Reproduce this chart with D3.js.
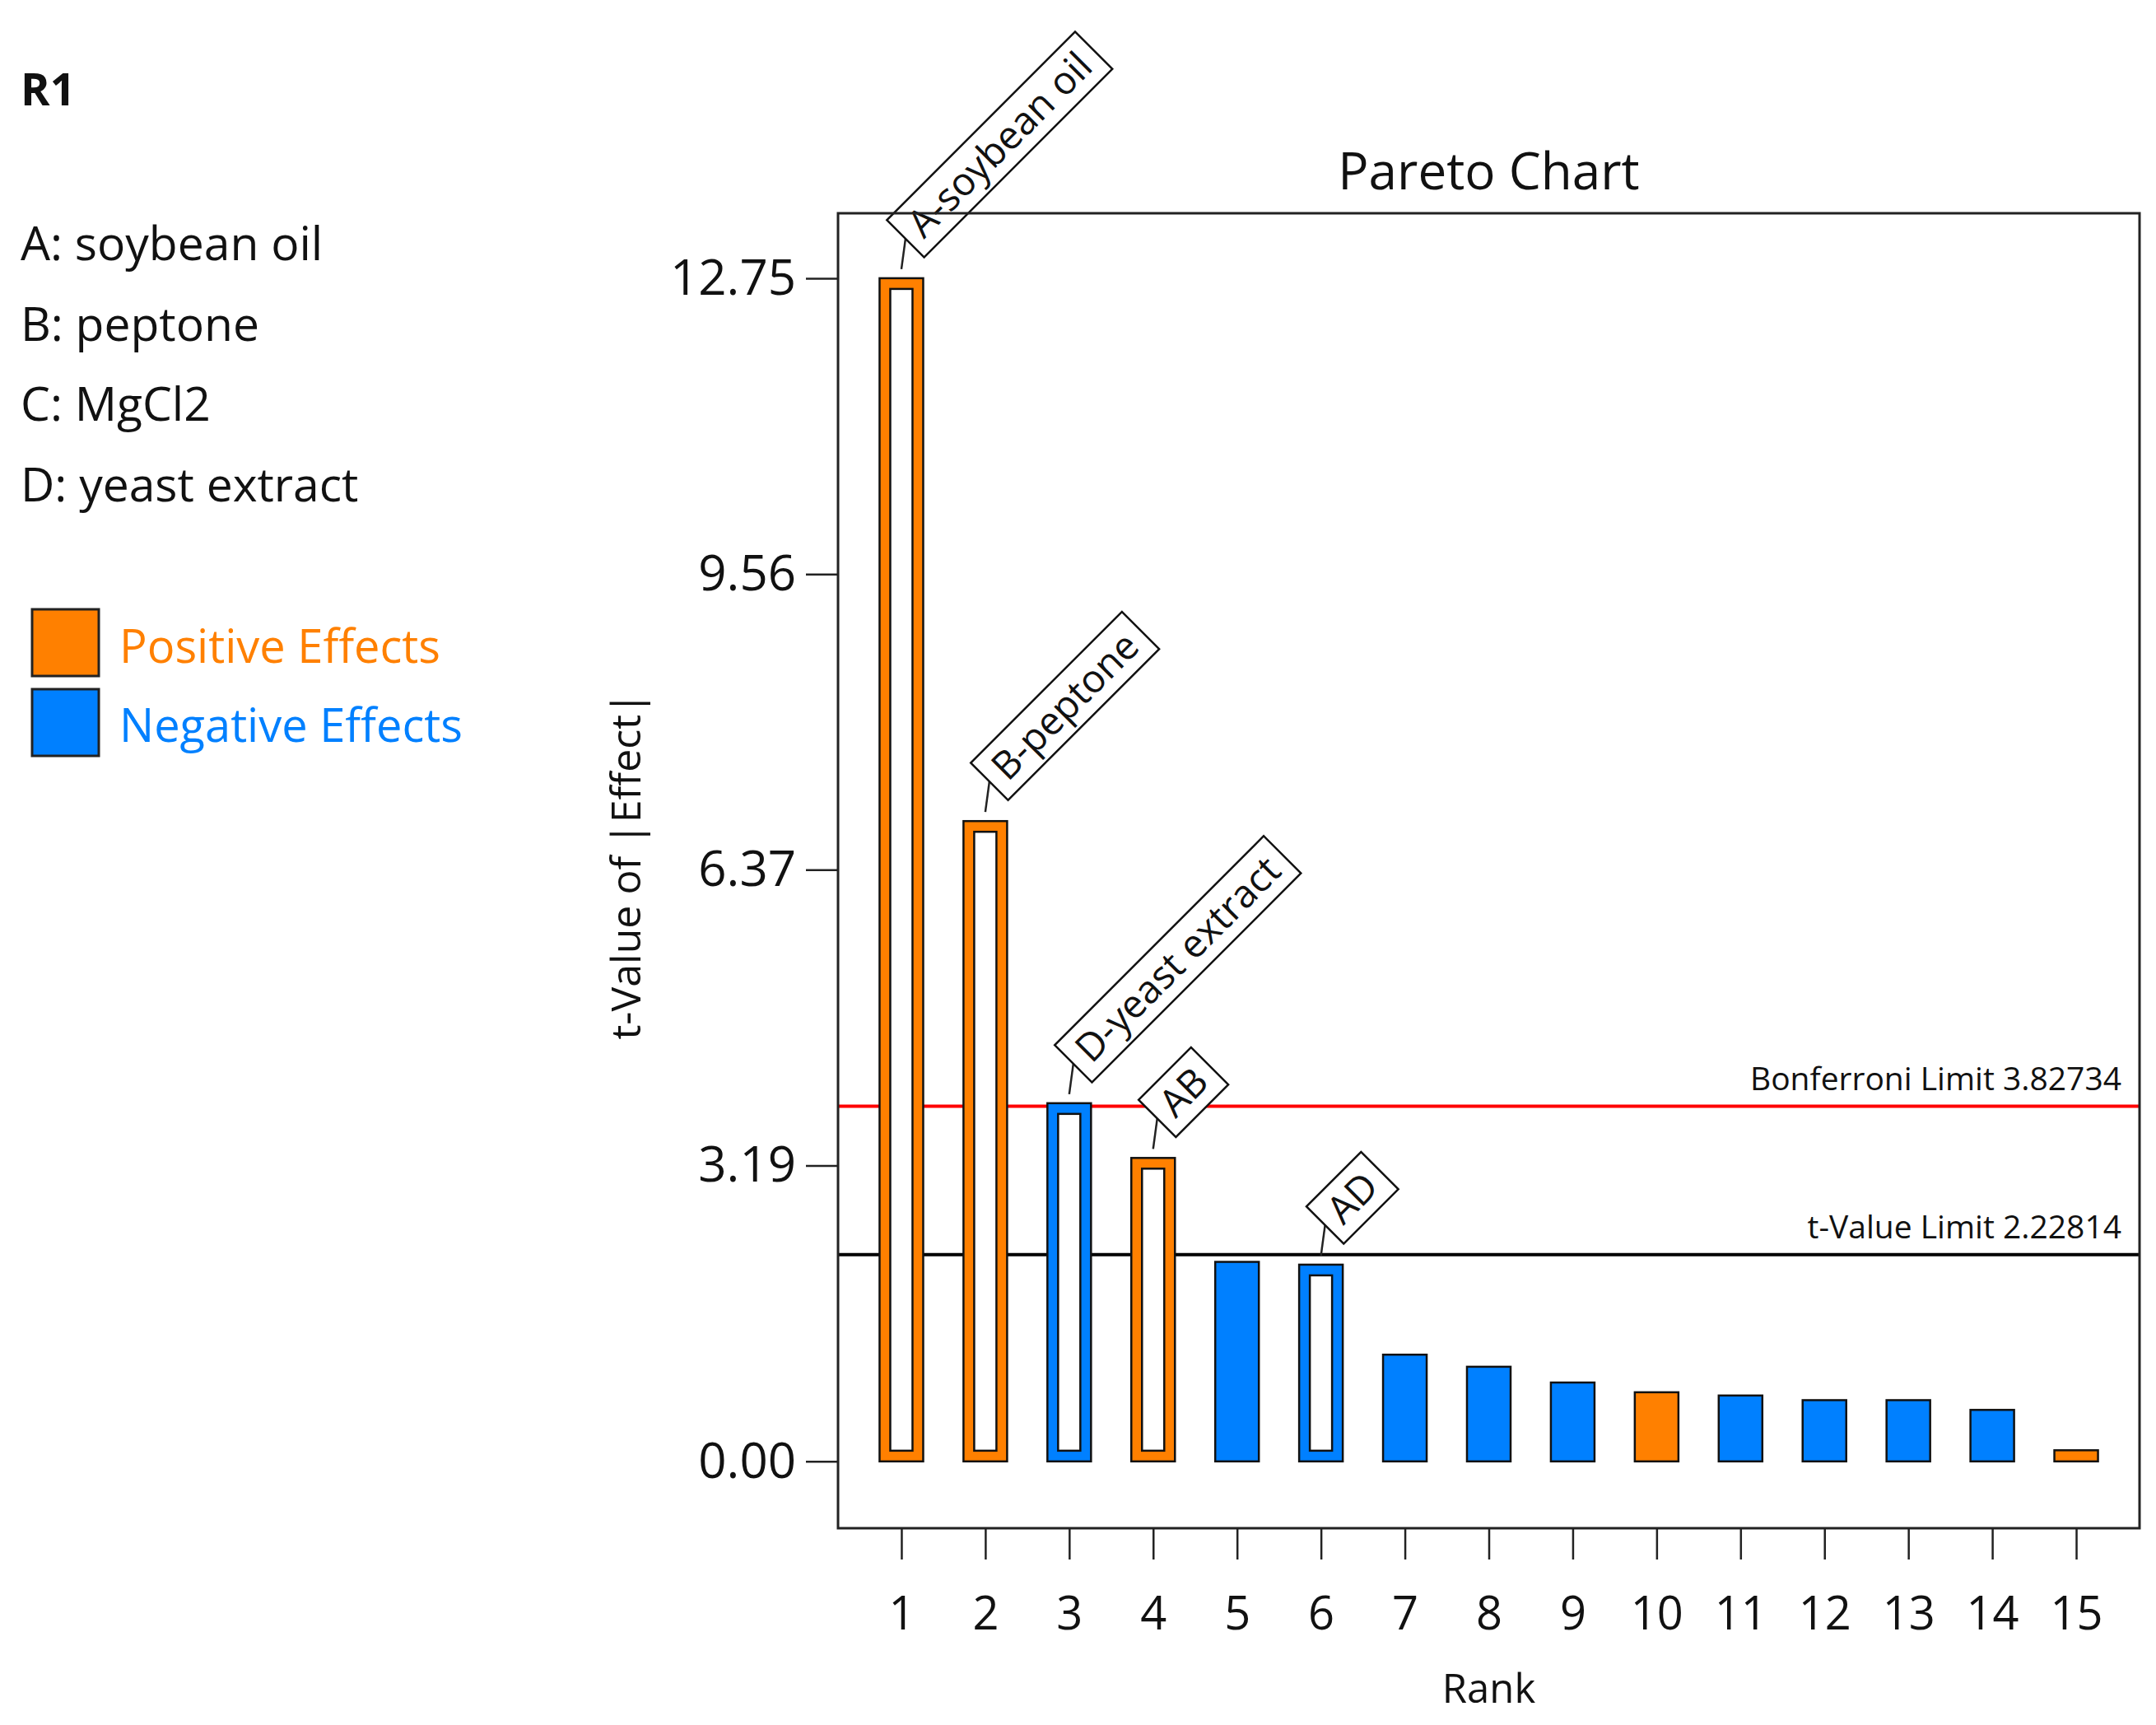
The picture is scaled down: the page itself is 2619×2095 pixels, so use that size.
<!DOCTYPE html>
<html>
<head>
<meta charset="utf-8">
<script src="https://cdnjs.cloudflare.com/ajax/libs/d3/7.8.5/d3.min.js"></script>
<style>
  body { margin: 0; background: #fff; }
  text { font-family: "Open Sans", "Noto Sans", sans-serif; fill: #111; }
</style>
</head>
<body>
<div id="chart"></div>
<script>
// Data
var ranks = [1, 2, 3, 4, 5, 6, 7, 8, 9, 10, 11, 12, 13, 14, 15];
var tValues = [12.75, 6.90, 3.86, 3.27, 2.15, 2.12, 1.15, 1.02, 0.85, 0.745, 0.71, 0.66, 0.66, 0.555, 0.12];
var effectSign = ["pos", "pos", "neg", "pos", "neg", "neg", "neg", "neg", "neg", "pos", "neg", "neg", "neg", "neg", "pos"];
var termLabels = ["A-soybean oil", "B-peptone", "D-yeast extract", "AB", null, "AD", null, null, null, null, null, null, null, null, null];
var yTickValues = [0, 3.1875, 6.375, 9.5625, 12.75];
var yTickLabels = ["0.00", "3.19", "6.37", "9.56", "12.75"];
var factorList = ["A: soybean oil", "B: peptone", "C: MgCl2", "D: yeast extract"];
var legendNames = ["Positive Effects", "Negative Effects"];
var limitNames = ["Bonferroni Limit 3.82734", "t-Value Limit 2.22814"];
var limitValues = [3.82734, 2.22814];

var colors = { pos: "#FF8000", neg: "#0080FF" };
var limitColors = ["#FF0000", "#000000"];

// SVG area
var svgWidth = 2619;
var svgHeight = 2095;

// plot box
var box = { left: 1018, right: 2599, top: 259, bottom: 1856 };

var svg = d3.select("#chart")
  .append("svg")
  .attr("width", svgWidth)
  .attr("height", svgHeight);

// scales
var xScale = d3.scaleLinear()
  .domain([0.245, 15.755])
  .range([box.left, box.right]);

var yScale = d3.scaleLinear()
  .domain([-0.72, 13.45])
  .range([box.bottom, box.top]);

var barWidth = 53;

// left side text
svg.append("text")
  .attr("x", 25)
  .attr("y", 128)
  .attr("font-size", 54)
  .attr("font-weight", "bold")
  .text("R1");

svg.selectAll(".factor")
  .data(factorList)
  .enter()
  .append("text")
  .attr("class", "factor")
  .attr("x", 25)
  .attr("y", (d, i) => 316 + i * 97.7)
  .attr("font-size", 57)
  .text(d => d);

// legend
var legendKeys = ["pos", "neg"];
legendKeys.forEach(function(k, i) {
  svg.append("rect")
    .attr("x", 39)
    .attr("y", 740 + i * 97)
    .attr("width", 81)
    .attr("height", 81)
    .attr("fill", colors[k])
    .attr("stroke", "#222")
    .attr("stroke-width", 3);
  svg.append("text")
    .attr("x", 145)
    .attr("y", 805 + i * 96)
    .attr("font-size", 56)
    .style("fill", colors[k])
    .text(legendNames[i]);
});

// title
svg.append("text")
  .attr("x", (box.left + box.right) / 2)
  .attr("y", 230)
  .attr("text-anchor", "middle")
  .attr("font-size", 62)
  .text("Pareto Chart");

// axes
var leftAxis = d3.axisLeft(yScale)
  .tickValues(yTickValues)
  .tickFormat((d, i) => yTickLabels[i])
  .tickSize(39)
  .tickPadding(12);

var yAxisG = svg.append("g")
  .attr("transform", `translate(${box.left}, 0)`)
  .call(leftAxis);
yAxisG.select(".domain").remove();
yAxisG.selectAll("line").attr("stroke", "#222").attr("stroke-width", 2.5);
yAxisG.selectAll("text")
  .attr("font-size", 60)
  .attr("font-family", "Open Sans")
  .style("fill", "#111");

var bottomAxis = d3.axisBottom(xScale)
  .tickValues(ranks)
  .tickFormat(d3.format("d"))
  .tickSize(38)
  .tickPadding(45);

var xAxisG = svg.append("g")
  .attr("transform", `translate(0, ${box.bottom})`)
  .call(bottomAxis);
xAxisG.select(".domain").remove();
xAxisG.selectAll("line").attr("stroke", "#222").attr("stroke-width", 2.5);
xAxisG.selectAll("text")
  .attr("font-size", 56)
  .attr("font-family", "Open Sans")
  .style("fill", "#111");

// axis titles
svg.append("text")
  .attr("transform", `translate(778, ${(box.top + box.bottom) / 2 - 6}) rotate(-90)`)
  .attr("text-anchor", "middle")
  .attr("font-size", 50)
  .text("t-Value of |Effect|");

svg.append("text")
  .attr("x", (box.left + box.right) / 2)
  .attr("y", 2068)
  .attr("text-anchor", "middle")
  .attr("font-size", 49)
  .text("Rank");

// limit lines
limitValues.forEach(function(v, i) {
  svg.append("line")
    .attr("x1", box.left)
    .attr("x2", box.right)
    .attr("y1", yScale(v))
    .attr("y2", yScale(v))
    .attr("stroke", limitColors[i])
    .attr("stroke-width", 4);
  svg.append("text")
    .attr("x", box.right - 22)
    .attr("y", yScale(v) - 20)
    .attr("text-anchor", "end")
    .attr("font-size", 39)
    .text(limitNames[i]);
});

// bars
var barData = ranks.map((r, i) => ({ rank: r, t: tValues[i], sign: effectSign[i], label: termLabels[i] }));

var bars = svg.selectAll(".bar")
  .data(barData)
  .enter()
  .append("g")
  .attr("class", "bar");

bars.append("rect")
  .attr("x", d => xScale(d.rank) - barWidth / 2)
  .attr("y", d => yScale(d.t))
  .attr("width", barWidth)
  .attr("height", d => yScale(0) - yScale(d.t))
  .attr("fill", d => colors[d.sign])
  .attr("stroke", "#111")
  .attr("stroke-width", 2.5);

// labelled terms are drawn hollow
var inset = 13;
bars.filter(d => d.label)
  .append("rect")
  .attr("x", d => xScale(d.rank) - barWidth / 2 + inset)
  .attr("y", d => yScale(d.t) + inset)
  .attr("width", barWidth - 2 * inset)
  .attr("height", d => yScale(0) - yScale(d.t) - 2 * inset)
  .attr("fill", "#fff")
  .attr("stroke", "#111")
  .attr("stroke-width", 2.5);

// term labels with leader lines
var labelled = bars.filter(d => d.label);

labelled.append("line")
  .attr("x1", d => xScale(d.rank))
  .attr("y1", d => yScale(d.t) - 11)
  .attr("x2", d => xScale(d.rank) + 5)
  .attr("y2", d => yScale(d.t) - 48)
  .attr("stroke", "#222")
  .attr("stroke-width", 2.5);

var tags = labelled.append("g")
  .attr("transform", d => `translate(${xScale(d.rank) + 5}, ${yScale(d.t) - 48}) rotate(-45)`);

tags.append("rect")
  .attr("x", 0)
  .attr("y", -32)
  .attr("height", 64)
  .attr("fill", "#fff")
  .attr("stroke", "#111")
  .attr("stroke-width", 2.5);

tags.append("text")
  .attr("x", 15)
  .attr("y", 0)
  .attr("dy", "0.35em")
  .attr("font-size", 47)
  .text(d => d.label);

tags.each(function() {
  var g = d3.select(this);
  var w = g.select("text").node().getComputedTextLength();
  g.select("rect").attr("width", w + 30);
});

// plot box
svg.append("rect")
  .attr("x", box.left)
  .attr("y", box.top)
  .attr("width", box.right - box.left)
  .attr("height", box.bottom - box.top)
  .attr("fill", "none")
  .attr("stroke", "#222")
  .attr("stroke-width", 3);
</script>
</body>
</html>
